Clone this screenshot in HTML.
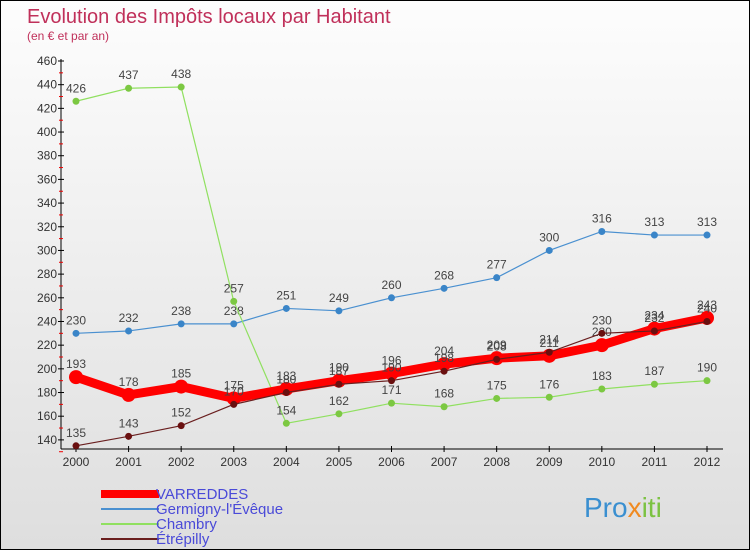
<!DOCTYPE html>
<html><head><meta charset="utf-8"><style>
body{margin:0;}
#wrap{width:748px;height:548px;border:1px solid #000;position:relative;background:linear-gradient(#fdfdfd,#dedede);font-family:"Liberation Sans",sans-serif;overflow:hidden}
svg text{font-family:"Liberation Sans",sans-serif}
</style></head><body>
<div id="wrap">
<svg id="c" width="748" height="548">
<text x="26" y="22" font-size="20" fill="#c0305a">Evolution des Impôts locaux par Habitant</text>
<text x="26" y="39" font-size="12" fill="#c0305a">(en € et par an)</text>
<g id="axes"></g><g id="series"></g><g id="legend"></g>
<text x="583" y="516" font-size="28" fill="#3a8fd0">Pro<tspan fill="#f08a20">x</tspan><tspan fill="#7cc242">iti</tspan></text>
</svg></div>
<script>
const years=[2000,2001,2002,2003,2004,2005,2006,2007,2008,2009,2010,2011,2012];
const yTicks=[140,160,180,200,220,240,260,280,300,320,340,360,380,400,420,440,460];
const varreddes=[193,178,185,175,183,190,196,204,209,211,220,234,243];
const germigny=[230,232,238,238,251,249,260,268,277,300,316,313,313];
const chambry=[426,437,438,257,154,162,171,168,175,176,183,187,190];
const etrepilly=[135,143,152,170,180,187,190,198,208,214,230,232,240];
const NS='http://www.w3.org/2000/svg';
const X=i=>75+i*(631/12);
const Y=v=>60+(460-v)*1.184;
function mk(t,a,p){const e=document.createElementNS(NS,t);for(const k in a)e.setAttribute(k,a[k]);p.appendChild(e);return e;}
const ax=document.getElementById('axes');
const yl=mk('line',{x1:60,y1:58,x2:60,y2:448,stroke:'#000'},ax);


const xl=mk('line',{x1:60,y1:448,x2:722,y2:448,stroke:'#000'},ax);


yTicks.forEach(v=>{const y=Y(v);mk('line',{x1:57,y1:y,x2:63,y2:y,stroke:'#000'},ax);
mk('line',{x1:58,y1:y+11.84,x2:62,y2:y+11.84,stroke:'#e00'},ax);
const t=mk('text',{x:56,y:y+4,'font-size':12,'text-anchor':'end',fill:'#333'},ax);t.textContent=v;

});
years.forEach((yr,i)=>{const x=X(i);mk('line',{x1:x,y1:445,x2:x,y2:451,stroke:'#000'},ax);
const t=mk('text',{x:x,y:465,'font-size':12,'text-anchor':'middle',fill:'#333'},ax);t.textContent=yr;

});
const sg=document.getElementById('series');
function series(data,color,w,r,name,dot){const g=mk('g',{},sg);


mk('polyline',{points:data.map((v,i)=>X(i)+','+Y(v)).join(' '),fill:'none',stroke:color,'stroke-width':w},g);
data.forEach((v,i)=>{const c=mk('circle',{cx:X(i),cy:Y(v),r:r,fill:dot},g);


const t=mk('text',{x:X(i),y:Y(v)-9,'font-size':12,'text-anchor':'middle',fill:'#444'},g);t.textContent=v;});}
series(germigny,'#4a90d0',1.2,3.5,'series-germigny','#3a85c8');
series(chambry,'#90e060',1.2,3.5,'series-chambry','#7cc842');
series(varreddes,'#ff0000',9,7,'series-varreddes','#ff0000');
series(etrepilly,'#6a1f1f',1.2,3.5,'series-etrepilly','#6a1010');
const lg=document.getElementById('legend');
[['VARREDDES','#ff0000',8],['Germigny-l\'Évêque','#4a90d0',2],['Chambry','#90e060',2],['Étrépilly','#6a1f1f',2]].forEach((d,i)=>{const y=493+i*15;
const g=mk('g',{},lg);


mk('line',{x1:100,y1:y,x2:158,y2:y,stroke:d[1],'stroke-width':d[2]},g);
const t=mk('text',{x:155,y:y+5,'font-size':15,fill:'#4a4ad8'},g);t.textContent=d[0];});
</script></body></html>
